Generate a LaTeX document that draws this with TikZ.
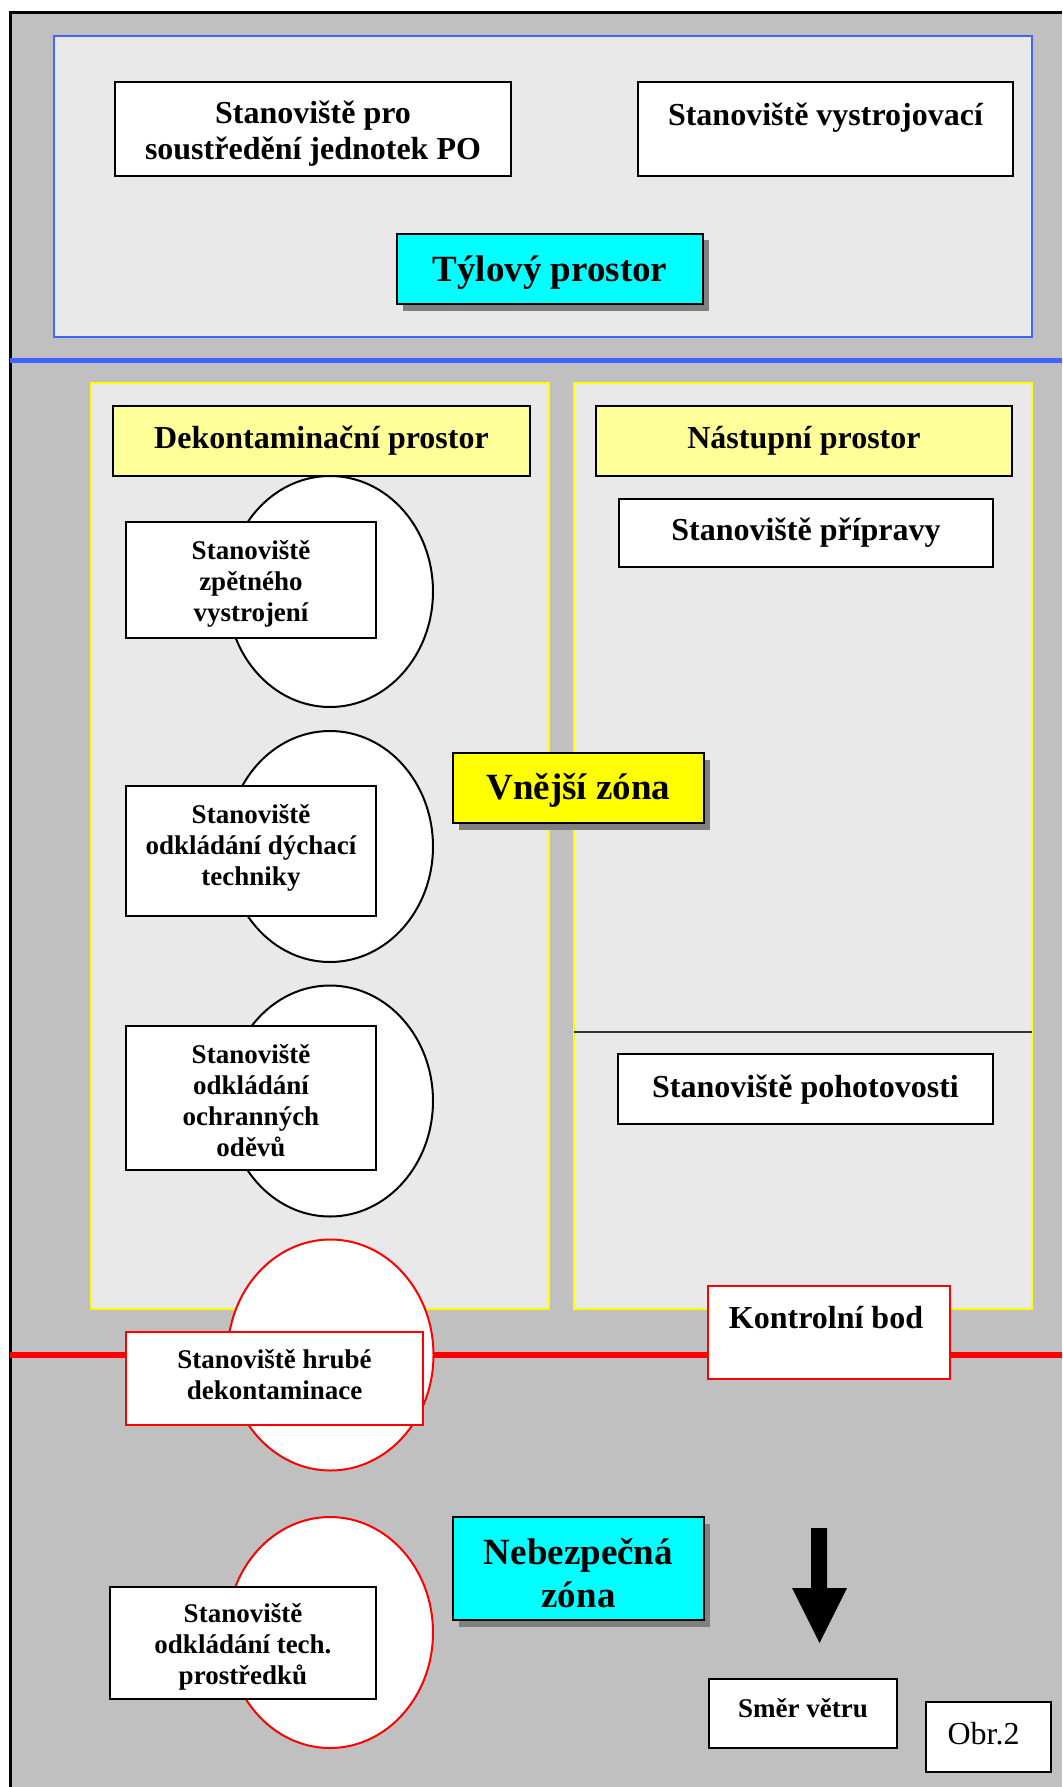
\documentclass[tikz,border=0pt]{standalone}
\usepackage{fontspec}
\setmainfont{Liberation Serif}
\usetikzlibrary{shapes.geometric,shadows}
\definecolor{bggray}{RGB}{192,192,192}
\definecolor{areagray}{RGB}{233,233,233}
\definecolor{zblue}{RGB}{64,102,255}
\definecolor{zyellow}{RGB}{255,255,0}
\definecolor{lightyellow}{RGB}{255,255,153}
\definecolor{zcyan}{RGB}{0,255,255}
\definecolor{zred}{RGB}{255,0,0}
\definecolor{shadowgray}{RGB}{128,128,128}
\definecolor{sepgray}{RGB}{50,50,50}
\begin{document}
\begin{tikzpicture}[x=0.5pt,y=-0.5pt,
  zbox/.style={draw=black, line width=1pt, fill=white, rectangle, inner sep=0pt, align=center,
               font=\bfseries\fontsize{16}{18}\selectfont},
  zonebox/.style={zbox,
               drop shadow={shadow xshift=2.75pt, shadow yshift=-3.25pt, fill=shadowgray, opacity=1}},
  circ/.style={ellipse, draw=black, line width=1pt, fill=white, minimum width=103pt,
               minimum height=115.5pt, inner sep=0pt},
  wh/.style 2 args={minimum width=#1, minimum height=#2},
  bigtext/.style={font=\bfseries\fontsize{16}{18}\selectfont, inner sep=0pt, align=center},
  smalltext/.style={font=\bfseries\fontsize{13.5}{15.5}\selectfont, inner sep=0pt, align=center},
  zonetext/.style={font=\bfseries\fontsize{18.5}{21.5}\selectfont, inner sep=0pt, align=center}
]
\useasboundingbox (0,0) rectangle (1062,1787);
\fill[white] (0,0) rectangle (1062,1787);
% background and frame
\fill[bggray] (10,13) rectangle (1062,1787);
\draw[line width=1.5pt] (10,1787) -- (10,13) -- (1062,13);

% rear area
\draw[zblue, line width=1pt, fill=areagray] (54,36) rectangle (1032,337);
\draw[zblue, line width=2.5pt] (10,360) -- (1062,360);

% outer zone areas
\draw[zyellow, line width=1pt, fill=areagray] (91,383) rectangle (549,1309);
\draw[zyellow, line width=1pt, fill=areagray] (574,383) rectangle (1032,1309);
\draw[sepgray, line width=1pt] (574,1032) -- (1032,1032);

% red boundary line
\draw[zred, line width=3pt] (10,1355) -- (1062,1355);

% ellipses
\node[circ] (e1) at (330,591.5) {};
\node[circ] (e2) at (330,846.5) {};
\node[circ] (e3) at (330,1101) {};
\node[circ, draw=zred] (e4) at (330.5,1355) {};
\node[circ, draw=zred] (e5) at (330,1632.5) {};

% rear area boxes
\node[zbox, wh={198pt}{47pt}] (sou) at (313,129) {};
\node[bigtext] (sout) at (313,134) {Stanoviště pro\\soustředění jednotek PO};
\node[zbox, wh={187.5pt}{47pt}] (vys) at (825.5,129) {};
\node[bigtext, anchor=base] (vyst) at (825.5,125.5) {Stanoviště vystrojovací};
\node[zonebox, fill=zcyan, wh={153pt}{35pt}] (tyl) at (550,269) {};
\node[zonetext] (tylt) at (550,272.5) {Týlový prostor};

% outer zone labels
\node[zbox, fill=lightyellow, wh={208.5pt}{35pt}] (dek) at (321.5,441) {Dekontaminační prostor};
\node[zbox, fill=lightyellow, wh={208pt}{35pt}] (nas) at (804,441) {Nástupní prostor};
\node[zbox, wh={187pt}{34pt}] (pri) at (806,533) {Stanoviště přípravy};
\node[zbox, wh={187.5pt}{35pt}] (poh) at (805.5,1089) {};
\node[bigtext] (poht) at (805.5,1090) {Stanoviště pohotovosti};

\node[zbox, wh={125pt}{58pt}] (zpe) at (251,580) {};
\node[smalltext] (zpet) at (251,583.5) {Stanoviště\\zpětného\\vystrojení};
\node[zbox, wh={125pt}{65pt}] (dyc) at (251,851) {};
\node[smalltext] (dyct) at (251,847.5) {Stanoviště\\odkládání dýchací\\techniky};
\node[zbox, wh={125pt}{72pt}] (ode) at (251,1098) {};
\node[smalltext] (odet) at (251,1101) {Stanoviště\\odkládání\\ochranných\\oděvů};

\node[zonebox, fill=zyellow, wh={125.5pt}{35pt}] (vne) at (578.5,788) {};
\node[zonetext] (vnet) at (578.5,790.5) {Vnější zóna};

% boundary boxes
\node[zbox, draw=zred, wh={148.5pt}{46.5pt}] (hru) at (274.5,1378.5) {};
\node[smalltext] (hrut) at (274.5,1375) {Stanoviště hrubé\\dekontaminace};
\node[zbox, draw=zred, wh={121pt}{46.5pt}] (kon) at (829,1332.5) {};
\node[bigtext, anchor=base] (kont) at (826,1328) {Kontrolní bod};

% danger zone
\node[zonebox, fill=zcyan, wh={125.5pt}{51.5pt}] (neb) at (578.5,1568.5) {};
\node[zonetext] (nebt) at (578.5,1573) {Nebezpečná\\zóna};
\node[zbox, wh={133pt}{56pt}] (tec) at (243,1643) {};
\node[smalltext] (tect) at (243,1647) {Stanoviště\\odkládání tech.\\prostředků};

% wind arrow
\fill[black] (811,1528) -- (827,1528) -- (827,1588) -- (847,1588) -- (819.5,1643)
  -- (792,1588) -- (811,1588) -- cycle;
\node[zbox, wh={94pt}{34.5pt}] (sme) at (803,1713.5) {};
\node[smalltext] (smet) at (803,1708) {Směr větru};
\node[zbox, wh={62.5pt}{35pt}] (obr) at (988.5,1737) {};
\node[font=\fontsize{16}{18}\selectfont, inner sep=0pt] (obrt) at (983.5,1733.5) {Obr.2};
\end{tikzpicture}
\end{document}
